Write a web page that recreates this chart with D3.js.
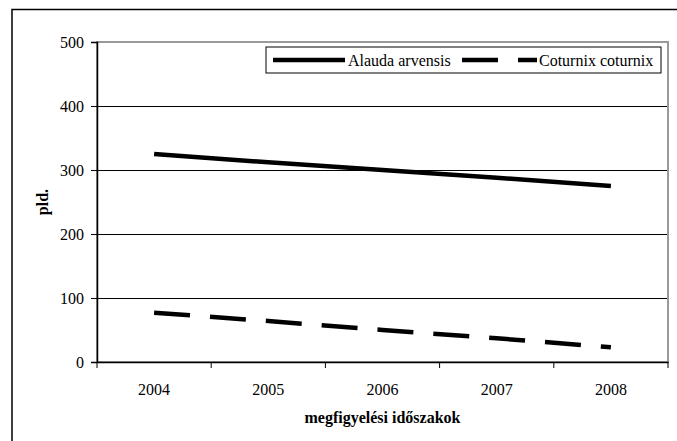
<!DOCTYPE html>
<html><head><meta charset="utf-8">
<script src="https://cdn.jsdelivr.net/npm/d3@7"></script>
<style>body{margin:0;background:#fff}svg{display:block}svg text{font-family:"Liberation Serif","Times New Roman",serif}</style>
</head><body>
<svg id="c" width="677" height="441"></svg>
<script>
const years = ["2004","2005","2006","2007","2008"];
const alauda = [325, 312, 300, 288, 275];
const coturnix = [77, 64, 50, 37, 23];
const yTicks = [0,100,200,300,400,500];
const seriesNames = ["Alauda arvensis","Coturnix coturnix"];

const svg = d3.select("#c");
const font = '"Liberation Serif","Times New Roman",serif';
const FS = 16;
const L=97, R=668, T=42, B=362;

svg.append("rect").attr("x",12).attr("y",9.5).attr("width",700).attr("height",500)
  .attr("fill","none").attr("stroke","#000").attr("stroke-width",1.5);

const x = d3.scaleBand().domain(years).range([L,R]);
const y = d3.scaleLinear().domain([0,500]).range([B,T]);

svg.append("g").selectAll("line").data(yTicks.filter(d=>d>0&&d<500)).join("line")
  .attr("x1",L).attr("x2",R).attr("y1",d=>y(d)+0.5).attr("y2",d=>y(d)+0.5)
  .attr("stroke","#000").attr("stroke-width",1);

svg.append("rect").attr("x",L).attr("y",T).attr("width",R-L).attr("height",B-T)
  .attr("fill","none").attr("stroke","#999").attr("stroke-width",2);

const ya = svg.append("g").attr("transform",`translate(${L},0)`)
  .call(d3.axisLeft(y).tickValues(yTicks).tickSize(6).tickPadding(7));
ya.attr("font-family",null).attr("font-size",null);
ya.select(".domain").attr("stroke","#000").attr("stroke-width",1.5);
ya.selectAll(".tick line").attr("stroke","#000");
ya.selectAll("text").style("font-family",font).style("font-size",FS+"px").attr("fill","#000");

const xa = svg.append("g").attr("transform",`translate(0,${B})`)
  .call(d3.axisBottom(x).tickSize(0).tickPadding(22));
xa.attr("font-family",null).attr("font-size",null);
xa.select(".domain").attr("stroke","#000").attr("stroke-width",1.5);
xa.selectAll("text").style("font-family",font).style("font-size",FS+"px").attr("fill","#000");
const bounds = years.map(d=>x(d)).concat([x(years[years.length-1])+x.bandwidth()]);
svg.append("g").selectAll("line").data(bounds).join("line")
  .attr("x1",d=>d).attr("x2",d=>d).attr("y1",B).attr("y2",B+6)
  .attr("stroke","#000").attr("stroke-width",1);

const line = d3.line().x((d,i)=>x(years[i])+x.bandwidth()/2).y(d=>y(d));
svg.append("path").datum(alauda).attr("d",line).attr("fill","none")
  .attr("stroke","#000").attr("stroke-width",4.5);
svg.append("path").datum(coturnix).attr("d",line).attr("fill","none")
  .attr("stroke","#000").attr("stroke-width",4.5).attr("stroke-dasharray","36,20");

svg.append("text").attr("x",(L+R)/2).attr("y",423).attr("text-anchor","middle")
  .style("font-family",font).style("font-size",FS+"px").attr("font-weight","bold")
  .text("megfigyelési időszakok");
svg.append("text").attr("transform",`translate(48,${(T+B)/2}) rotate(-90)`)
  .attr("text-anchor","middle").style("font-family",font).style("font-size",FS+"px")
  .attr("font-weight","bold").text("pld.");

const lg = svg.append("g");
lg.append("rect").attr("x",266).attr("y",47).attr("width",395).attr("height",26)
  .attr("fill","#fff").attr("stroke","#000").attr("stroke-width",1);
lg.append("line").attr("x1",273).attr("x2",345).attr("y1",60).attr("y2",60)
  .attr("stroke","#000").attr("stroke-width",4.5);
lg.append("text").attr("x",348).attr("y",65.5).style("font-family",font).style("font-size",FS+"px")
  .text(seriesNames[0]);
lg.append("line").attr("x1",462).attr("x2",537).attr("y1",60).attr("y2",60)
  .attr("stroke","#000").attr("stroke-width",4.5).attr("stroke-dasharray","36,20");
lg.append("text").attr("x",539).attr("y",65.5).style("font-family",font).style("font-size",FS+"px")
  .text(seriesNames[1]);
</script>
</body></html>
